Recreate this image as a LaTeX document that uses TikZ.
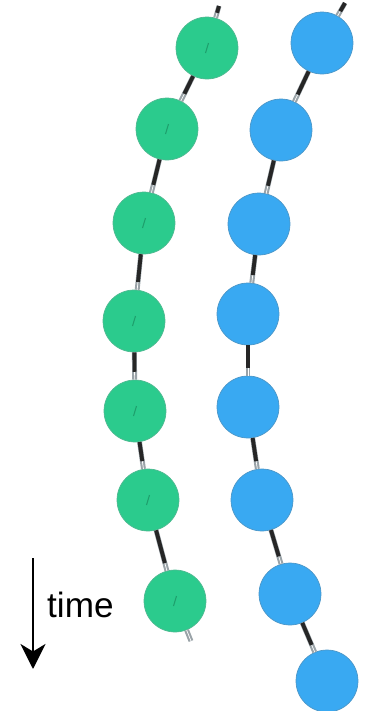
\documentclass[tikz,border=0pt]{standalone}
\usepackage{fontspec}
\setmainfont{Liberation Sans}
\usetikzlibrary{arrows.meta}
\definecolor{chainGreen}{HTML}{2BCB8D}
\definecolor{chainGreenLine}{HTML}{4FB991}
\definecolor{chainBlue}{HTML}{39A9F2}
\definecolor{chainBlueLine}{HTML}{4C97C8}
\definecolor{bondGray}{HTML}{9AA3A8}
\definecolor{tickGreen}{HTML}{1E9F6C}

\begin{document}
\begin{tikzpicture}[
    x=0.02cm,y=-0.02cm,>=Stealth,
    every node/.style={font=\fontsize{20}{24}\selectfont},
    greenbead/.style={circle,draw=chainGreenLine,fill=chainGreen,line width=0.4pt,minimum size=1.24cm,inner sep=0pt},
    bluebead/.style={circle,draw=chainBlueLine,fill=chainBlue,line width=0.4pt,minimum size=1.24cm,inner sep=0pt},
    bondthin/.style={draw=bondGray,line width=1.2pt,double=white,double distance=0.4pt},
    bondthick/.style={draw=black!85,line width=2.2pt,shorten >=4.5pt},
    tick/.style={draw=tickGreen,line width=0.6pt}
]
\useasboundingbox (0,0) rectangle (366,711);

% green chain
\node[greenbead] (g1) at (207,48) {};
\node[greenbead] (g2) at (167,129) {};
\node[greenbead] (g3) at (144,223) {};
\node[greenbead] (g4) at (134,321) {};
\node[greenbead] (g5) at (135,411) {};
\node[greenbead] (g6) at (148,500) {};
\node[greenbead] (g7) at (175,601) {};
\coordinate (gtop) at (219,6);
\coordinate (gend) at (191,641);

% blue chain
\node[bluebead] (b1) at (322,43) {};
\node[bluebead] (b2) at (281,130) {};
\node[bluebead] (b3) at (259,224) {};
\node[bluebead] (b4) at (248,314) {};
\node[bluebead] (b5) at (248,407) {};
\node[bluebead] (b6) at (262,500) {};
\node[bluebead] (b7) at (290,594) {};
\node[bluebead] (b8) at (327,681) {};
\coordinate (btop) at (345,3);

% bonds
\draw[bondthin] (g1) -- (gtop);
\draw[bondthick,shorten >=0pt,shorten <=3pt] (g1) -- (gtop);
\foreach \a/\b in {g1/g2,g2/g3,g3/g4,g4/g5,g5/g6,g6/g7,b1/b2,b2/b3,b3/b4,b4/b5,b5/b6,b6/b7,b7/b8}{
    \draw[bondthin] (\a) -- (\b);
    \draw[bondthick] (\a) -- (\b);
}
\draw[bondthin] (g7) -- (gend);
\draw[bondthin] (b1) -- (btop);
\draw[bondthick,shorten >=0pt,shorten <=3pt] (b1) -- (btop);

% faint marks inside the green beads
\foreach \g in {g1,g2,g3,g4,g5,g6,g7}{
    \draw[tick] ([shift={(-1.5,5)}]\g.center) -- ([shift={(1.5,-5)}]\g.center);
}

% time axis
\node[anchor=west] (tlabel) at (41,605) {time};
\coordinate (tstart) at (33,558);
\coordinate (tend) at (33,669);
\draw[line width=1.7pt,-{Stealth[length=5mm,width=5mm,inset=1.5mm]}] (tstart) -- (tend);
\end{tikzpicture}
\end{document}
